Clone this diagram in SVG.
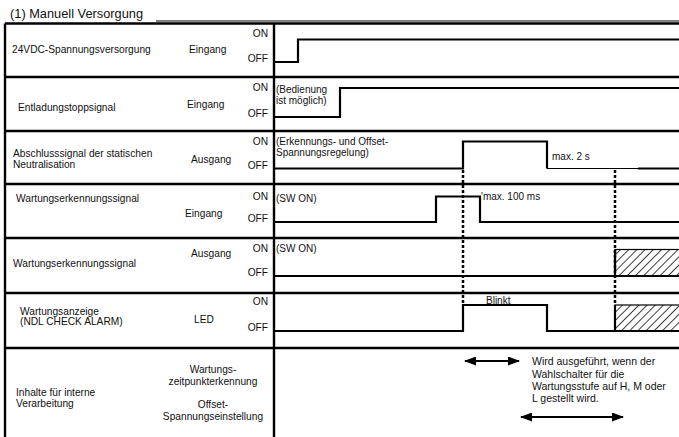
<svg xmlns="http://www.w3.org/2000/svg" width="679" height="437" viewBox="0 0 679 437">
<style>
text{font-family:"Liberation Sans",Arial,sans-serif;fill:#111;font-size:10.2px}
.t{font-size:12.8px}
.sm{font-size:10px}
.nt{font-size:10.5px}
.r{text-anchor:end}
.c{text-anchor:middle}
.fr{stroke:#000;stroke-width:2.4;fill:none}
.sig{stroke:#000;stroke-width:2.2;fill:none}
.thin{stroke:#000;stroke-width:1;fill:none}
.dot{stroke:#000;stroke-width:2.5;stroke-dasharray:3 2;fill:none}
.arr{stroke:#000;stroke-width:2.2;fill:none;marker-start:url(#ah);marker-end:url(#ah)}
.hat{fill:url(#hatch);stroke:#000;stroke-width:1.2}
</style>
<defs>
<pattern id="hatch" patternUnits="userSpaceOnUse" width="5.8" height="8" patternTransform="rotate(45)">
<line x1="0" y1="-1" x2="0" y2="9" stroke="#000" stroke-width="1.5"/>
</pattern>
<marker id="ah" viewBox="0 0 12 9" refX="11" refY="4.5" markerWidth="12" markerHeight="9" markerUnits="userSpaceOnUse" orient="auto-start-reverse">
<path d="M0,0 L12,4.5 L0,9 Z" fill="#000"/>
</marker>
</defs>
<rect width="679" height="437" fill="#fff"/>
<text class="t" x="10" y="18">(1) Manuell Versorgung</text>
<line class="thin" x1="156" y1="21" x2="679" y2="21"/>
<g id="frame">
<path class="fr" d="M5,23.5 H679 M5,23.5 V437 M274,23.5 V437 M5,77 H679 M5,131 H679 M5,184 H679 M5,238 H679 M5,293 H679 M5,348 H679"/>
</g>
<g id="row-24vdc">
<text x="12" y="53">24VDC-Spannungsversorgung</text>
<text x="189" y="53">Eingang</text>
<text class="r" x="268" y="37">ON</text>
<text class="r" x="268" y="62">OFF</text>
<path class="sig" d="M274,62 H298 V39.5 H679"/>
</g>
<g id="row-entladung">
<text x="18" y="111">Entladungstoppsignal</text>
<text x="187" y="108">Eingang</text>
<text class="r" x="268" y="91">ON</text>
<text class="r" x="268" y="117">OFF</text>
<text class="sm" x="276" y="93">(Bedienung</text>
<text class="sm" x="276" y="104">ist möglich)</text>
<path class="sig" d="M274,117 H340 V88 H679"/>
</g>
<g id="row-abschluss">
<text x="13" y="157">Abschlusssignal der statischen</text>
<text x="13" y="168">Neutralisation</text>
<text x="191" y="163">Ausgang</text>
<text class="r" x="268" y="145">ON</text>
<text class="r" x="268" y="169">OFF</text>
<text class="sm" x="276" y="145">(Erkennungs- und Offset-</text>
<text class="sm" x="276" y="156">Spannungsregelung)</text>
<path class="sig" d="M274,168.5 H463 V141.5 H547 V168.5"/>
<line class="thin" x1="547" y1="168.5" x2="638" y2="168.5"/>
<line class="sig" x1="638" y1="168.5" x2="679" y2="168.5"/>
<text class="sm" x="552" y="160">max. 2 s</text>
</g>
<g id="row-wartung-ein">
<text x="16" y="202">Wartungserkennungssignal</text>
<text x="185" y="217">Eingang</text>
<text class="r" x="268" y="200">ON</text>
<text class="r" x="268" y="222">OFF</text>
<text class="sm" x="276" y="202">(SW ON)</text>
<path class="sig" d="M274,222 H436 V196.5 H480 V222 H679"/>
<text class="sm" x="481" y="200">'max. 100 ms</text>
</g>
<g id="row-wartung-aus">
<text x="13" y="267">Wartungserkennungssignal</text>
<text x="191" y="257">Ausgang</text>
<text class="r" x="268" y="252">ON</text>
<text class="r" x="268" y="276">OFF</text>
<text class="sm" x="276" y="252">(SW ON)</text>
<line class="sig" x1="274" y1="276" x2="615" y2="276"/>
<rect class="hat" x="615" y="249.5" width="66" height="26.5"/>
<path class="sig" d="M615,249.5 V276 H679"/>
</g>
<g id="row-anzeige">
<text x="20" y="315">Wartungsanzeige</text>
<text x="20" y="325">(NDL CHECK ALARM)</text>
<text x="194" y="323">LED</text>
<text class="r" x="268" y="305">ON</text>
<text class="r" x="268" y="331">OFF</text>
<path class="sig" d="M274,331 H463 V305 H547 V331 H615"/>
<text class="sm" x="486" y="304">Blinkt</text>
<rect class="hat" x="615" y="305" width="66" height="26"/>
<path class="sig" d="M615,305 V331 H679"/>
</g>
<g id="row-intern">
<text x="16" y="396">Inhalte für interne</text>
<text x="16" y="407">Verarbeitung</text>
<text class="c" x="213" y="373">Wartungs-</text>
<text class="c" x="213" y="385">zeitpunkterkennung</text>
<text class="c" x="213" y="408">Offset-</text>
<text class="c" x="213" y="420">Spannungseinstellung</text>
<text class="nt" x="532" y="365">Wird ausgeführt, wenn der</text>
<text class="nt" x="532" y="378">Wahlschalter für die</text>
<text class="nt" x="532" y="390">Wartungsstufe auf H, M oder</text>
<text class="nt" x="532" y="402">L gestellt wird.</text>
</g>
<g id="connectors">
<line class="dot" x1="463" y1="170" x2="463" y2="305"/>
<line class="dot" x1="615" y1="170" x2="615" y2="305"/>
<line class="arr" x1="465" y1="361" x2="519" y2="361"/>
<line class="arr" x1="521" y1="417" x2="623" y2="417"/>
</g>
</svg>
